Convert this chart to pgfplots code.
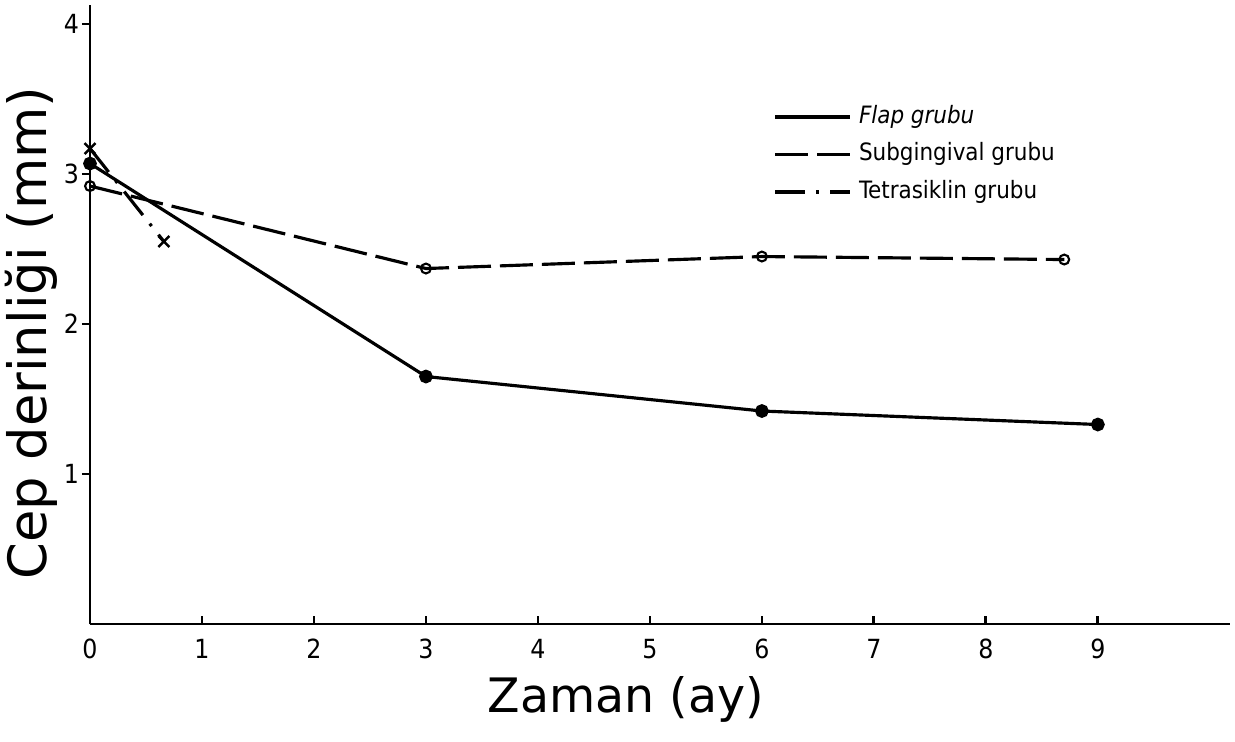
\documentclass[border=0pt]{standalone}
\usepackage{fontspec}
\setmainfont{DejaVu Sans}
\newfontfamily\cond{DejaVu Sans Condensed}
\usepackage{pgfplots}
\pgfplotsset{compat=1.18}

\begin{document}
\begin{tikzpicture}
\useasboundingbox (-9mm,-11.7mm) rectangle (114.5mm,62.4mm);
\begin{axis}[
  scale only axis, width=114mm, height=61.9mm,
  xmin=0, xmax=10.18, ymin=0, ymax=4.127,
  clip=false,
  axis lines=left, axis line style={-, line width=0.8pt},
  xtick={0,...,9}, ytick={1,2,3,4},
  tick align=inside, major tick length=0.8mm,
  major y tick style={xshift=-0.8mm},
  tick style={line width=0.8pt, black},
  ticklabel style={font=\cond\fontsize{7.5}{9}\selectfont},
  xticklabel style={yshift=-0.3mm},
  yticklabel style={xshift=0.15mm},
  /pgf/number format/assume math mode=true,
  xlabel={Zaman (ay)}, ylabel={Cep derinliği (mm)},
  xlabel style={font=\fontsize{13.5}{16}\selectfont,
    at={(axis description cs:0.47,0)}, anchor=north, yshift=-4mm},
  ylabel style={font=\fontsize{15}{18}\selectfont,
    at={(axis description cs:-0.018,0.47)}, anchor=south},
  legend style={draw=none, fill=none, at={(axis cs:6.1,3.51)}, anchor=north west,
    font=\cond\fontsize{6.8}{8}\selectfont, row sep=0pt, inner sep=0pt,
    /tikz/every even column/.append style={column sep=1.6mm}},
  legend cell align=left,
  legend image code/.code={\draw[#1] (0mm,0mm) -- (7.5mm,0mm);},
]
% Flap grubu
\addplot[black, line width=0.9pt, mark=*, mark size=1.5pt]
  coordinates {(0,3.07) (3,1.65) (6,1.42) (9,1.33)};
\addlegendentry{\itshape Flap grubu}
% Subgingival grubu
\addplot[black, line width=0.9pt, dash pattern=on 3.3mm off 0.9mm,
  mark=o, mark size=1.4pt, mark options={solid, fill=white, line width=0.6pt}]
  coordinates {(0,2.92) (3,2.37) (6,2.45) (8.7,2.43)};
\addlegendentry{Subgingival grubu}
% Tetrasiklin grubu
\addplot[black, line width=0.9pt, dash pattern=on 3mm off 1.1mm on 0.3mm off 1.1mm,
  mark=x, mark size=2.2pt, mark options={solid, line width=0.7pt}]
  coordinates {(0,3.17) (0.66,2.55)};
\addlegendentry{Tetrasiklin grubu}
\end{axis}
\end{tikzpicture}
\end{document}
